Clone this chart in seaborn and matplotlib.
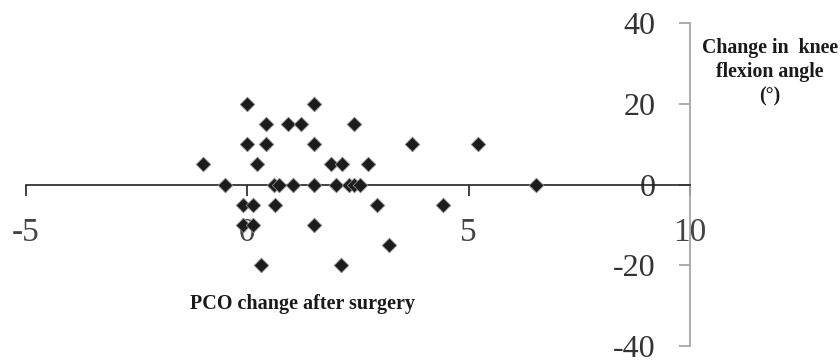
import numpy as np
import pandas as pd
import seaborn as sns
import matplotlib
matplotlib.use('Agg')
import matplotlib.pyplot as plt

# values
pco_change = [0.0, 1.5,
              0.42, 0.91, 1.22, 2.4,
              0.0, 0.42, 1.5, 3.72, 5.2,
              -1.0, 0.22, 1.89, 2.13, 2.72,
              -0.5, 0.6, 0.71, 1.03, 1.51, 2.0, 2.3, 2.42, 2.55, 6.52,
              -0.1, 0.13, 0.62, 2.93, 4.41,
              -0.1, 0.13, 1.5,
              3.21,
              0.32, 2.11]
knee_change = [20, 20,
               15, 15, 15, 15,
               10, 10, 10, 10, 10,
               5, 5, 5, 5, 5,
               0, 0, 0, 0, 0, 0, 0, 0, 0, 0,
               -5, -5, -5, -5, -5,
               -10, -10, -10,
               -15,
               -20, -20]
x_ticks = [-5, 0, 5, 10]
y_ticks = [-40, -20, 0, 20, 40]

df = pd.DataFrame({'pco': pco_change, 'knee': knee_change})

sns.set_style('white')
plt.rcParams['font.family'] = ['Liberation Serif', 'DejaVu Serif']
plt.rcParams['axes.unicode_minus'] = False

fig = plt.figure(figsize=(8.4, 3.63), dpi=100)
ax = fig.add_axes([26/840, 17/363, 664/840, 323/363])

sns.scatterplot(data=df, x='pco', y='knee', marker='D', s=55,
                color='#1c1c1c', edgecolor='#8a8a8a', linewidth=0.6,
                ax=ax, clip_on=False, zorder=3)

ax.set_xlim(-5, 10)
ax.set_ylim(-40, 40)
ax.set_xticks(x_ticks)
ax.set_yticks(y_ticks)
ax.set_xlabel('')
ax.set_ylabel('')

# axes cross at (10, 0)
ax.spines['top'].set_visible(False)
ax.spines['right'].set_visible(False)
ax.spines['left'].set_position(('data', 10))
ax.spines['left'].set_color('#a6a6a6')
ax.spines['left'].set_linewidth(1.3)
ax.spines['bottom'].set_position(('data', 0))
ax.spines['bottom'].set_color('#222222')
ax.spines['bottom'].set_linewidth(1.2)

ax.tick_params(axis='y', left=True, direction='out', length=8, width=1.3,
               color='#a6a6a6', pad=17, labelsize=23, labelcolor='#333333')
ax.tick_params(axis='x', bottom=True, direction='out', length=8, width=1.2,
               color='#222222', pad=16, labelsize=24, labelcolor='#444444')

fig.text(302/840, 1 - 304/363, 'PCO change after surgery',
         ha='center', va='center', fontsize=14.5, fontweight='bold',
         color='#1a1a1a')
fig.text(770/840, 1 - 38/363, 'Change in  knee\nflexion angle\n(°)',
         ha='center', va='top', fontsize=14.3, fontweight='bold',
         color='#1a1a1a', linespacing=1.27)

fig.savefig('out.png', dpi=100)
